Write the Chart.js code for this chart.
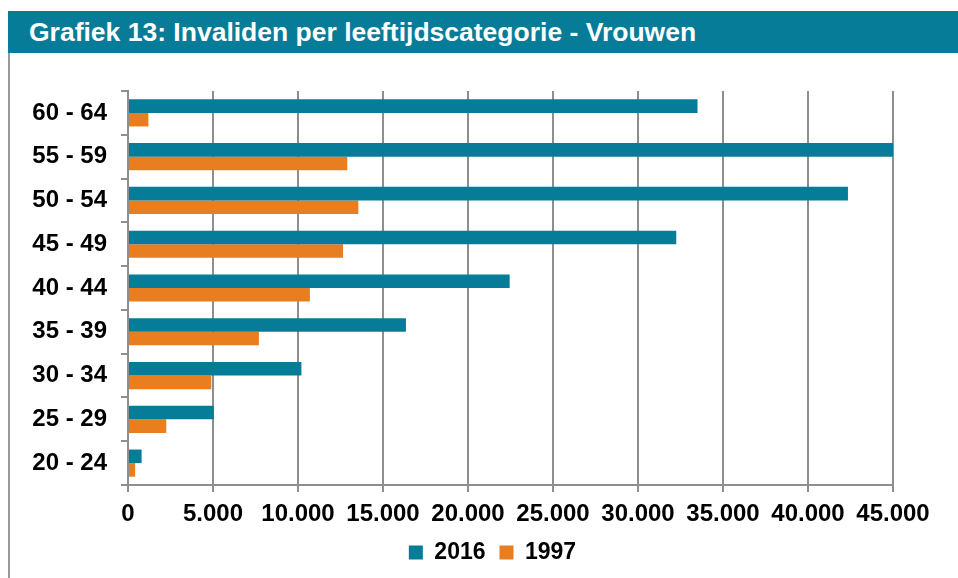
<!DOCTYPE html>
<html>
<head>
<meta charset="utf-8">
<script src="https://cdn.jsdelivr.net/npm/chart.js@4"></script>
<style>
  body { margin: 0; background: #fff; font-family: "Liberation Sans", Arial, sans-serif; }
  #titlebar {
    position: absolute; left: 8px; top: 11px; width: 950px; height: 42px;
    background: #077c99; color: #fff; font-weight: bold; font-size: 26.5px;
    line-height: 42px; padding-left: 21px; box-sizing: border-box;
  }
  #frame { position: absolute; left: 8px; top: 53px; width: 2px; height: 525px; background: #9a9a9a; }
  #wrap { position: absolute; left: 10px; top: 53px; width: 948px; height: 525px; }
</style>
</head>
<body>
<div id="titlebar">Grafiek 13: Invaliden per leeftijdscategorie - Vrouwen</div>
<div id="frame"></div>
<div id="wrap"><canvas id="bars"></canvas></div>
<script>
const categories = ['60 - 64', '55 - 59', '50 - 54', '45 - 49', '40 - 44', '35 - 39', '30 - 34', '25 - 29', '20 - 24'];
const values2016 = [33500, 45050, 42350, 32250, 22450, 16350, 10200, 5050, 800];
const values1997 = [1200, 12900, 13550, 12650, 10700, 7700, 4900, 2250, 420];
const xTicks = [0, 5000, 10000, 15000, 20000, 25000, 30000, 35000, 40000, 45000];

const gridGrey = '#8e8e8e';
const dots = (v) => String(v).replace(/\B(?=(\d{3})+(?!\d))/g, '.');

// the legend sits a bit right of the plot centre in the original
const shiftLegend = {
  id: 'shiftLegend',
  afterLayout: (chart) => {
    chart.legend.left += 41;
    chart.legend.right += 41;
  },
};

const initBars = () => {
  Chart.defaults.font.family = '"Liberation Sans", Arial, sans-serif';
  Chart.defaults.font.weight = 'bold';
  Chart.defaults.font.size = 24;
  Chart.defaults.color = '#000';

  const data = {
    labels: categories,
    datasets: [{
      label: '2016',
      data: values2016,
      backgroundColor: '#077c99',
    }, {
      label: '1997',
      data: values1997,
      backgroundColor: '#e87e1f',
    }],
  };

  const config = {
    type: 'bar',
    data: data,
    plugins: [shiftLegend],
    options: {
      indexAxis: 'y',
      responsive: true,
      maintainAspectRatio: false,
      animation: false,
      categoryPercentage: 0.62,
      barPercentage: 1.0,
      layout: { padding: { top: 38, right: 65, left: 0, bottom: 4 } },
      scales: {
        x: {
          min: 0,
          max: 45000,
          afterBuildTicks: (scale) => { scale.ticks = xTicks.map((v) => ({ value: v })); },
          afterFit: (scale) => { scale.height = 42; },
          ticks: { padding: 8, callback: (v) => dots(v), maxRotation: 0 },
          grid: { color: gridGrey, lineWidth: 2, tickLength: 7 },
          border: { color: gridGrey, width: 2 },
        },
        y: {
          afterFit: (scale) => { scale.width = 118; },
          ticks: { padding: 14 },
          grid: { drawOnChartArea: false, color: gridGrey, lineWidth: 2, tickLength: 7 },
          border: { color: gridGrey, width: 2 },
        },
      },
      plugins: {
        legend: {
          position: 'bottom',
          labels: { boxWidth: 14, boxHeight: 14, padding: 14, font: { size: 23 } },
        },
        tooltip: { enabled: false },
      },
    },
  };

  new Chart(document.getElementById('bars'), config);
};

document.addEventListener('DOMContentLoaded', () => {
  if (!document.querySelector('#bars')) return;
  initBars();
});
</script>
</body>
</html>
